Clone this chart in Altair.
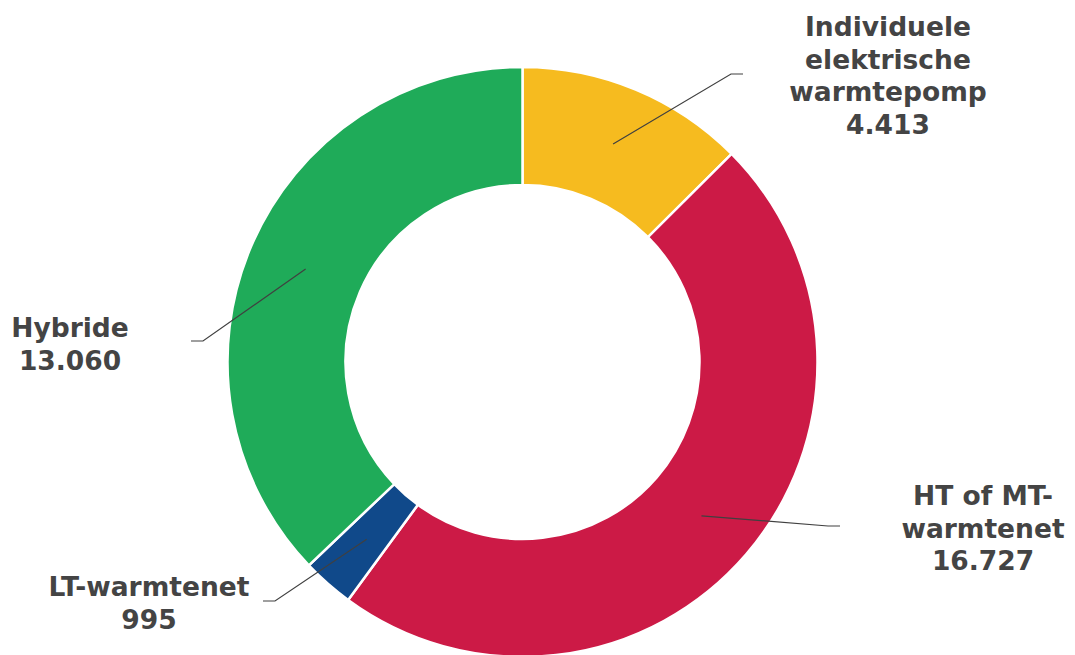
import altair as alt
import pandas as pd
import math

# ---- data ----
categories = ["Individuele\nelektrische\nwarmtepomp", "HT of MT-\nwarmtenet", "LT-warmtenet", "Hybride"]
keys = ["iewp", "ht", "lt", "hyb"]
values = [4413, 16727, 995, 13060]
colors = ["#F6BB1F", "#CC1A46", "#10498A", "#1FAB59"]

# ---- layout ----
W, H = 1059, 639
CX, CY = 514.5, 354
R_OUT, R_IN = 295, 177
# label anchor (first baseline, centre) and leader bend / end points, chart coords
label_pos = {"iewp": (880, 28), "ht": (975, 497), "lt": (141, 588), "hyb": (62, 329)}
leader_bend = {"iewp": [(723, 66), (735, 66)], "ht": [(820, 518), (832, 518)],
               "lt": [(267, 593), (255, 593)], "hyb": [(195, 333), (183, 333)]}

def fmt(v):
    return f"{v:,}".replace(",", ".")

total = sum(values)
arc_df = pd.DataFrame({"key": keys, "value": values, "idx": range(len(keys))})

# leader lines: start at slice middle (mid angle, mid radius)
rows = []
cum = 0
for k, v in zip(keys, values):
    mid = (cum + v / 2) / total * 2 * math.pi
    cum += v
    rm = (R_OUT + R_IN) / 2
    sx, sy = CX + rm * math.sin(mid), CY - rm * math.cos(mid)
    pts = [(sx, sy)] + leader_bend[k]
    for i, (px, py) in enumerate(pts):
        rows.append({"key": k, "o": i, "px": px, "py": py})
line_df = pd.DataFrame(rows)

lab_df = pd.DataFrame({
    "key": keys,
    "txt": [c + "\n" + fmt(v) for c, v in zip(categories, values)],
    "px": [label_pos[k][0] for k in keys],
    "py": [label_pos[k][1] for k in keys],
})

xs = alt.Scale(domain=[0, W], range=[0, W])
ys = alt.Scale(domain=[0, H], range=[0, H])

arcs = alt.Chart(arc_df).mark_arc(
    innerRadius=R_IN, outerRadius=R_OUT, stroke="white", strokeWidth=2.5
).encode(
    theta=alt.Theta("value:Q", stack=True),
    order=alt.Order("idx:Q"),
    color=alt.Color("key:N", scale=alt.Scale(domain=keys, range=colors), legend=None),
    x=alt.value(CX), y=alt.value(CY),
)

lines = alt.Chart(line_df).mark_line(color="#404040", strokeWidth=1.2).encode(
    x=alt.X("px:Q", scale=xs, axis=None),
    y=alt.Y("py:Q", scale=ys, axis=None),
    detail="key:N",
    order="o:Q",
)

labels = alt.Chart(lab_df).mark_text(
    font="DejaVu Sans", fontWeight="bold", fontSize=26.5, color="#444444",
    align="center", baseline="alphabetic", lineBreak="\n", lineHeight=32.5,
).encode(
    x=alt.X("px:Q", scale=xs, axis=None),
    y=alt.Y("py:Q", scale=ys, axis=None),
    text="txt:N",
)

chart = alt.layer(arcs, lines, labels).properties(
    width=W, height=H, padding=0, background="white"
).configure_view(stroke="transparent", strokeWidth=0)

chart.save("out.html", embed_options={"renderer": "svg", "actions": False})
